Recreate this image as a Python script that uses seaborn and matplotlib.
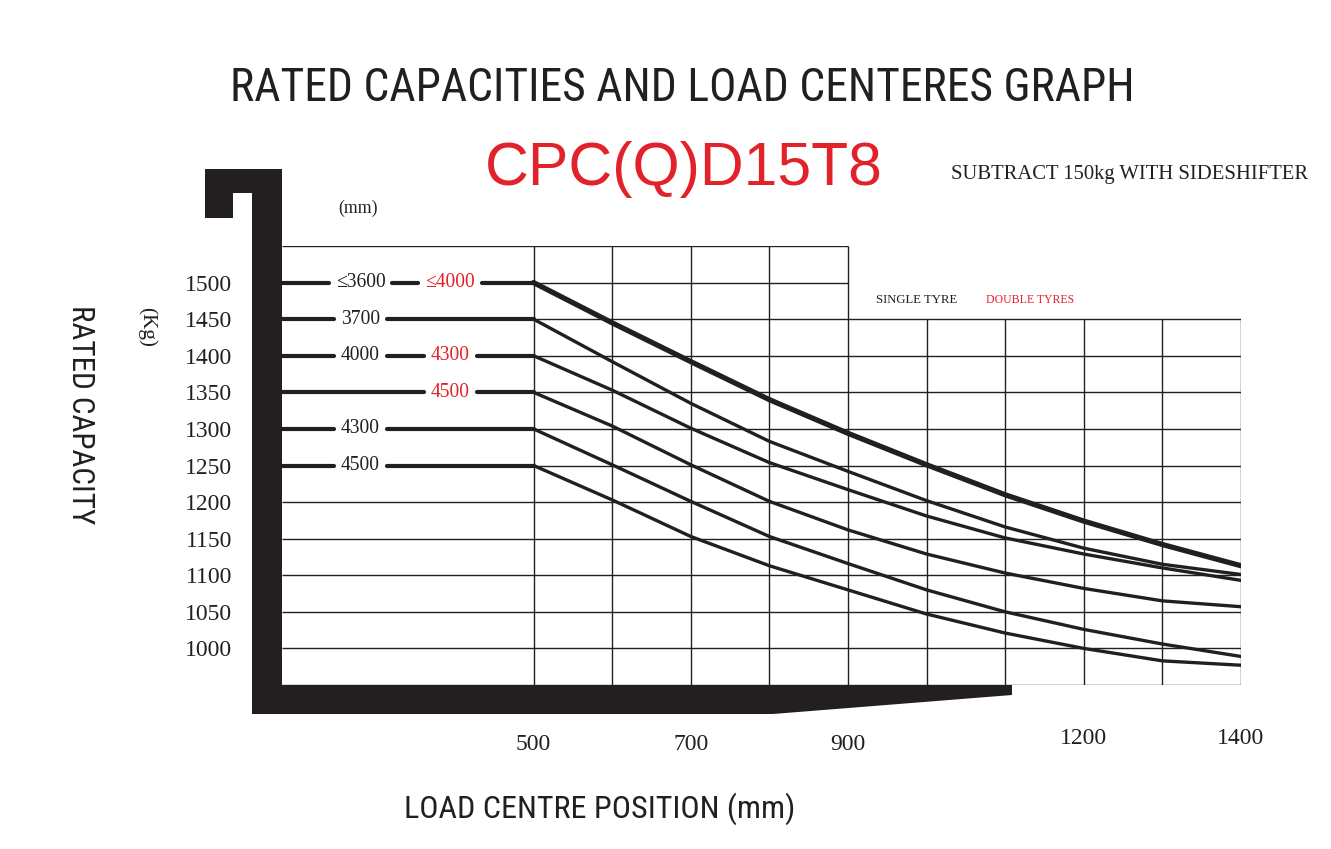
import matplotlib
matplotlib.use("Agg")
import matplotlib.pyplot as plt
import seaborn as sns
from matplotlib import font_manager as fm
from matplotlib import transforms
from matplotlib.patches import Polygon

# values: load centre (mm) vs rated capacity (kg), single tyre mast heights
load_centre = [500, 600, 700, 800, 900, 1000, 1100, 1200, 1300, 1400]
cap_1500 = [1500, 1445, 1392, 1340, 1294, 1251, 1210, 1174, 1142, 1113]
cap_1450 = [1450, 1392, 1335, 1283, 1242, 1202, 1166, 1137, 1115, 1101]
cap_1400 = [1400, 1353, 1301, 1254, 1217, 1181, 1151, 1129, 1110, 1093]
cap_1350 = [1350, 1304, 1251, 1201, 1162, 1129, 1103, 1082, 1065, 1057]
cap_1300 = [1300, 1251, 1201, 1153, 1116, 1080, 1050, 1026, 1006, 989]
cap_1250 = [1250, 1203, 1153, 1113, 1080, 1047, 1021, 1000, 983, 977]

rated = [1500, 1450, 1400, 1350, 1300, 1250]
single_mast = ["≤3600", "3700", "4000", "", "4300", "4500"]
double_mast = ["≤4000", "", "4300", "4500", "", ""]

y_ticks = [1500, 1450, 1400, 1350, 1300, 1250, 1200, 1150, 1100, 1050, 1000]
x_ticks = [500, 700, 900, 1200, 1400]
grid_x = [500, 600, 700, 800, 900, 1000, 1100, 1200, 1300, 1400]

INK = "#231f20"
RED = "#e1222a"
X_LEFT = 180

sns.set_style("white")

names = {f.name for f in fm.fontManager.ttflist}


def first_font(cands, default):
    for c in cands:
        if c in names:
            return c
    return default


NARROW = first_font(["Liberation Sans Narrow", "DejaVu Sans Condensed",
                     "Noto Sans Condensed", "Roboto Condensed"], "DejaVu Sans Mono")
SERIF = first_font(["Liberation Serif", "DejaVu Serif"], "DejaVu Serif")
SANS = first_font(["Liberation Sans", "Arial"], "DejaVu Sans")
plt.rcParams["font.family"] = [SERIF, "DejaVu Sans"]

fig = plt.figure(figsize=(13.31, 8.49), dpi=100)
ax = fig.add_axes([282 / 1331, 1 - 685 / 849, (1241 - 282) / 1331, (685 - 246) / 849])
ov = fig.add_axes([0, 0, 1, 1], zorder=5)
ov.set_xlim(0, 1331)
ov.set_ylim(849, 0)
ov.axis("off")

fig.canvas.draw()
renderer = fig.canvas.get_renderer()


def fit_size(s, width_px, **kw):
    t = fig.text(0, 0, s, fontsize=20, **kw)
    w = t.get_window_extent(renderer).width
    t.remove()
    return 20 * width_px / w


# grid
ax.set_xlim(X_LEFT, 1400)
ax.set_ylim(950, 1550)
for s in ax.spines.values():
    s.set_visible(False)
gkw = dict(color=INK, lw=1.0, zorder=1)
ax.vlines(grid_x[:5], 950, 1550, **gkw)
ax.vlines(grid_x[5:], 950, 1450, **gkw)
ax.hlines(1550, X_LEFT, 900, **gkw)
ax.hlines(1500, 500, 900, **gkw)
ax.hlines(rated[1:], 500, 1400, **gkw)
ax.hlines([1200, 1150, 1100, 1050, 1000, 950], X_LEFT, 1400, **gkw)

# capacity curves
curves = [cap_1500, cap_1450, cap_1400, cap_1350, cap_1300, cap_1250]
for i, vals in enumerate(curves):
    sns.lineplot(x=load_centre, y=vals, ax=ax, color=INK,
                 lw=3.8 if i == 0 else 2.4, legend=False, zorder=3)

# flat part of each curve with mast-height labels cut into it
lab_size = fit_size("4500", 39, family=[SERIF, "DejaVu Sans"])
inv = ax.transData.inverted()
for cap, s_lab, d_lab in zip(rated, single_mast, double_mast):
    gaps = []
    for txt, xc, col in ((s_lab, 280, INK), (d_lab, 394, RED)):
        if not txt:
            continue
        t = ax.text(xc, cap, txt, ha="center", va="center", color=col,
                    fontsize=lab_size, family=[SERIF, "DejaVu Sans"], zorder=4)
        bb = t.get_window_extent(renderer)
        gaps.append((inv.transform((bb.x0 - 7, 0))[0], inv.transform((bb.x1 + 7, 0))[0]))
    start = X_LEFT
    for g0, g1 in gaps:
        ax.plot([start, g0], [cap, cap], color=INK, lw=3.0, solid_capstyle="round", zorder=3)
        start = g1
    ax.plot([start, 500], [cap, cap], color=INK, lw=3.0, solid_capstyle="round", zorder=3)

# y axis tick labels
num_size = fit_size("1500", 47, family=SERIF)
ax.set_yticks(y_ticks)
ax.set_yticklabels([str(v) for v in y_ticks], fontsize=num_size, family=SERIF, color=INK)
ax.tick_params(axis="y", length=0, pad=36)
ax.set_xticks([])

# x labels under the fork
bt = transforms.blended_transform_factory(ax.transData, ov.transData)
for v in x_ticks:
    ov.text(v, 745 if v < 1000 else 738, str(v), transform=bt, ha="center", va="center",
            fontsize=num_size, family=SERIF, color=INK)

# forklift frame
frame = [(205, 169), (282, 169), (282, 685), (1012, 685), (1012, 695), (773, 714),
         (252, 714), (252, 193), (233, 193), (233, 218), (205, 218)]
ov.add_patch(Polygon(frame, closed=True, facecolor=INK, edgecolor="none"))

# texts
title = "RATED CAPACITIES AND LOAD CENTERES GRAPH"
ov.text(682, 101, title, ha="center", va="baseline", color=INK,
        fontsize=fit_size(title, 905, family=NARROW), family=NARROW)
model = "CPC(Q)D15T8"
ov.text(684, 185, model, ha="center", va="baseline", color=RED,
        fontsize=fit_size(model, 398, family=SANS), family=SANS)
note = "SUBTRACT 150kg WITH SIDESHIFTER"
ov.text(951, 179, note, ha="left", va="baseline", color=INK,
        fontsize=fit_size(note, 357, family=SERIF), family=SERIF)
ov.text(876, 303, "SINGLE TYRE", ha="left", va="baseline", color=INK,
        fontsize=fit_size("SINGLE TYRE", 82, family=SERIF), family=SERIF)
ov.text(986, 303, "DOUBLE TYRES", ha="left", va="baseline", color=RED,
        fontsize=fit_size("DOUBLE TYRES", 88, family=SERIF), family=SERIF)
ov.text(358, 208, "(mm)", ha="center", va="center", color=INK,
        fontsize=fit_size("(mm)", 40, family=SERIF), family=SERIF)
ov.text(147, 327, "(Kg)", ha="center", va="center", rotation=-90, color=INK,
        fontsize=fit_size("(Kg)", 40, family=SERIF), family=SERIF)
ylab = "RATED CAPACITY"
ov.text(80, 415, ylab, ha="center", va="center", rotation=-90, color=INK,
        fontsize=fit_size(ylab, 220, family=NARROW), family=NARROW)
xlab = "LOAD CENTRE POSITION (mm)"
ov.text(600, 809, xlab, ha="center", va="center", color=INK,
        fontsize=fit_size(xlab, 390, family=NARROW), family=NARROW)

fig.savefig("out.png", dpi=100, facecolor="white")
